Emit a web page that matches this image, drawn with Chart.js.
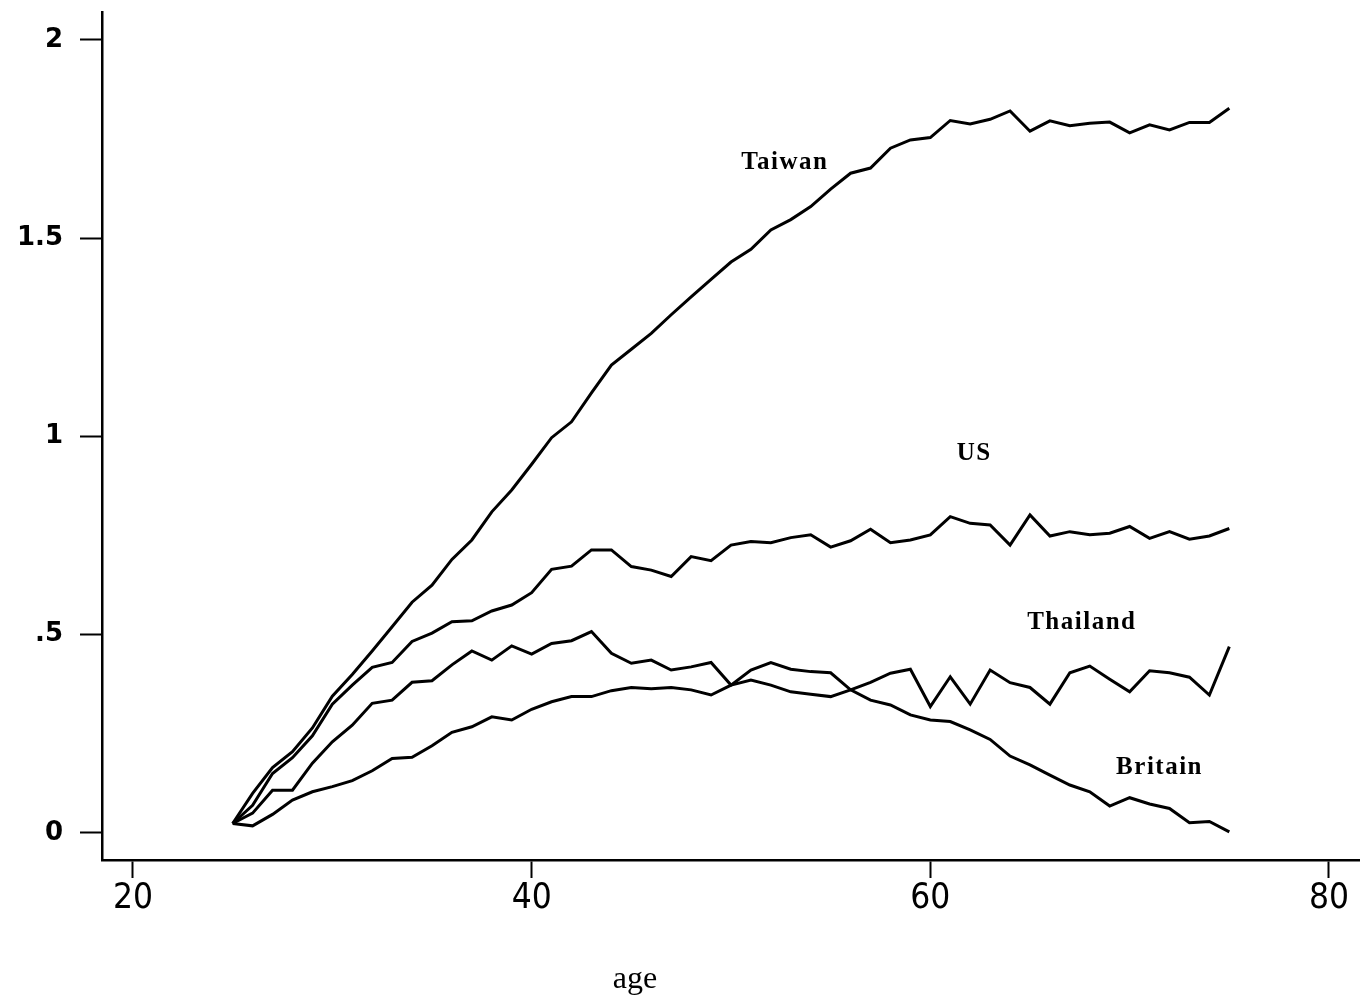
<!DOCTYPE html>
<html>
<head>
<meta charset="utf-8">
<script src="https://cdn.jsdelivr.net/npm/chart.js@4.4.1/dist/chart.umd.min.js"></script>
<style>
  html, body { margin: 0; padding: 0; background: #fff; }
  #wrap { width: 1360px; height: 1003px; }
</style>
</head>
<body>
<div id="wrap"><canvas id="c" width="1360" height="1003"></canvas></div>
<script>
const ages = [25,26,27,28,29,30,31,32,33,34,35,36,37,38,39,40,41,42,43,44,45,46,47,48,49,50,
              51,52,53,54,55,56,57,58,59,60,61,62,63,64,65,66,67,68,69,70,71,72,73,74,75];

const taiwan = [0.024,0.100,0.165,0.205,0.265,0.345,0.400,0.459,0.520,0.582,0.625,0.690,0.739,0.810,0.865,0.930,0.997,1.037,1.110,1.180,1.220,1.260,1.307,1.352,1.396,1.440,
                1.472,1.521,1.547,1.580,1.624,1.664,1.677,1.727,1.748,1.754,1.797,1.788,1.800,1.821,1.770,1.796,1.784,1.790,1.793,1.766,1.786,1.773,1.792,1.792,1.828];

const us = [0.024,0.070,0.150,0.190,0.245,0.325,0.373,0.418,0.430,0.483,0.504,0.533,0.535,0.560,0.575,0.606,0.665,0.673,0.714,0.714,0.672,0.663,0.647,0.697,0.687,0.726,
            0.735,0.732,0.745,0.752,0.721,0.737,0.766,0.732,0.739,0.752,0.798,0.781,0.777,0.726,0.802,0.749,0.760,0.752,0.756,0.773,0.743,0.760,0.741,0.749,0.768];

const thailand = [0.024,0.050,0.108,0.108,0.176,0.230,0.272,0.327,0.335,0.380,0.384,0.424,0.459,0.436,0.472,0.451,0.478,0.485,0.508,0.453,0.428,0.436,0.411,0.419,0.430,0.373,
                  0.386,0.373,0.356,0.350,0.344,0.361,0.380,0.403,0.413,0.319,0.394,0.325,0.411,0.379,0.367,0.325,0.404,0.421,0.388,0.356,0.409,0.404,0.393,0.348,0.470];

const britain = [0.024,0.018,0.047,0.083,0.104,0.117,0.132,0.157,0.188,0.191,0.220,0.254,0.268,0.293,0.285,0.312,0.331,0.344,0.344,0.359,0.367,0.364,0.367,0.361,0.348,0.373,
                 0.411,0.430,0.413,0.407,0.404,0.361,0.335,0.323,0.298,0.285,0.281,0.260,0.236,0.194,0.172,0.146,0.121,0.104,0.068,0.089,0.073,0.062,0.026,0.029,0.003];

const seriesNames = ['Taiwan', 'US', 'Thailand', 'Britain'];
const seriesValues = [taiwan, us, thailand, britain];

const xTicks = [20, 40, 60, 80];
const yTicks = [0, 0.5, 1, 1.5, 2];
const yTickLabels = ['0', '.5', '1', '1.5', '2'];
const xTitle = 'age';

// label anchors in data space (age, value)
const labelAnchors = [[52.7, 1.690], [62.2, 0.958], [67.6, 0.530], [71.5, 0.166]];

const datasets = seriesValues.map((vals, i) => ({
  label: seriesNames[i],
  data: ages.map((a, j) => ({ x: a, y: vals[j] })),
  borderColor: '#000',
  borderWidth: 3,
  pointRadius: 0,
  tension: 0,
  fill: false
}));

const labelPlugin = {
  id: 'seriesLabels',
  afterDatasetsDraw(chart) {
    const ctx = chart.ctx;
    const xs = chart.scales.x, ys = chart.scales.y;
    ctx.save();
    ctx.fillStyle = '#000';
    ctx.font = 'bold 25px "Liberation Serif", serif';
    ctx.textAlign = 'center';
    ctx.textBaseline = 'middle';
    if ('letterSpacing' in ctx) ctx.letterSpacing = '1.5px';
    seriesNames.forEach((n, i) => {
      ctx.fillText(n, xs.getPixelForValue(labelAnchors[i][0]), ys.getPixelForValue(labelAnchors[i][1]));
    });
    if ('letterSpacing' in ctx) ctx.letterSpacing = '0px';
    ctx.font = '32px "Liberation Serif", serif';
    ctx.fillText(xTitle, 635, 980);
    ctx.restore();
  }
};

new Chart(document.getElementById('c'), {
  type: 'line',
  data: { datasets },
  plugins: [labelPlugin],
  options: {
    responsive: false,
    animation: false,
    events: [],
    layout: { padding: { left: 0, right: 0, top: 12, bottom: 0 } },
    plugins: { legend: { display: false }, tooltip: { enabled: false } },
    scales: {
      x: {
        type: 'linear',
        min: 18.445,
        max: 81.556,
        afterBuildTicks: s => { s.ticks = xTicks.map(v => ({ value: v })); },
        afterFit: s => { s.height = 143; s.paddingLeft = 0; s.paddingRight = 0; },
        border: { display: true, color: '#000', width: 2.5 },
        grid: { drawOnChartArea: false, drawTicks: true, tickLength: 18, tickWidth: 2, color: '#000' },
        ticks: {
          color: '#000',
          padding: 0,
          maxRotation: 0,
          autoSkip: false,
          font: { family: '"DejaVu Sans Condensed", "DejaVu Sans", sans-serif', size: 35 },
          callback: v => String(v)
        }
      },
      y: {
        type: 'linear',
        min: -0.0681,
        max: 2.0706,
        afterBuildTicks: s => { s.ticks = yTicks.map(v => ({ value: v })); },
        afterFit: s => { s.width = 102; s.paddingTop = 0; s.paddingBottom = 0; },
        border: { display: true, color: '#000', width: 2.5 },
        grid: { drawOnChartArea: false, drawTicks: true, tickLength: 22, tickWidth: 2, color: '#000' },
        ticks: {
          color: '#000',
          padding: 17,
          autoSkip: false,
          font: { family: '"DejaVu Sans", sans-serif', size: 26, weight: 'bold' },
          callback: v => { const k = yTicks.indexOf(v); return k >= 0 ? yTickLabels[k] : ''; }
        }
      }
    }
  }
});
</script>
</body>
</html>
